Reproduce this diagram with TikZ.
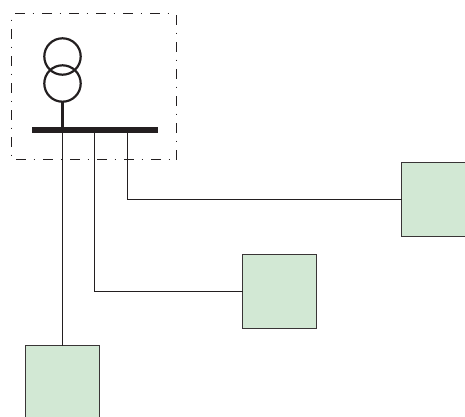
\documentclass[tikz,border=0pt]{standalone}
\definecolor{loadfill}{HTML}{D2E8D4}
\definecolor{inkline}{HTML}{231F20}
\tikzset{
  loadbox/.style={draw=inkline!90,fill=loadfill,line width=1.3pt,minimum width=74pt,minimum height=74pt,inner sep=0pt,outer sep=0pt},
  wire/.style={draw=inkline,line width=1.3pt},
  winding/.style={draw=inkline,line width=2.2pt,circle,minimum size=36.4pt,inner sep=0pt,outer sep=0pt},
  busbar/.style={fill=inkline,draw=none,minimum width=126.5pt,minimum height=6pt,inner sep=0pt,outer sep=0pt},
  zonebox/.style={draw=inkline,line width=1.5pt,dash pattern=on 10pt off 7.5pt on 1.5pt off 8pt},
}
\begin{document}
\begin{tikzpicture}[x=1pt,y=-1pt]
\useasboundingbox (0,0) rectangle (465,416);
\clip (0,0) rectangle (465,416);
\draw[zonebox] (15,13.5) -- (172,13.5);
\draw[zonebox] (176.5,15) -- (176.5,160);
\draw[zonebox] (16,159.5) -- (172,159.5);
\draw[zonebox,dash phase=17.5pt] (11.5,19.5) -- (11.5,156);
\node[busbar] (bus) at (94.75,129.5) {};
\node[winding] (w1) at (62.5,56.5) {};
\node[winding] (w2) at (62.5,83.5) {};
\node[loadbox] (r) at (438.5,199.5) {};
\node[loadbox] (m) at (279.5,291.5) {};
\node[loadbox] (b) at (62.5,382.5) {};
\coordinate (t1) at (62.5,129.5);
\coordinate (t2) at (94.5,129.5);
\coordinate (t3) at (127.5,129.5);
\draw[wire,line width=2.2pt] (w2) -- (t1);
\draw[wire] (t1) -- (b.north);
\draw[wire] (t2) |- (m.west);
\draw[wire] (t3) |- (r.west);
\end{tikzpicture}
\end{document}
